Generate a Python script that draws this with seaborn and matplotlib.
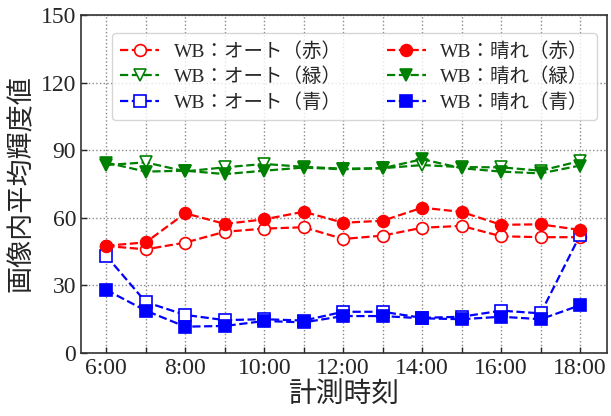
import matplotlib
matplotlib.use("Agg")
import matplotlib.pyplot as plt
import seaborn as sns
import pandas as pd

# Measurement hours (6:00 - 18:00)
hours = [6, 7, 8, 9, 10, 11, 12, 13, 14, 15, 16, 17, 18]
tick_labels = ["6:00", "", "8:00", "", "10:00", "", "12:00", "", "14:00",
               "", "16:00", "", "18:00"]

# Mean image brightness, white balance = auto
auto_red = [47.5, 46.0, 49.0, 53.8, 55.2, 55.8, 50.6, 52.1, 55.6, 56.4, 51.8, 51.4, 51.4]
auto_green = [83.4, 84.6, 80.6, 82.4, 83.9, 82.6, 81.8, 82.0, 83.4, 82.5, 82.4, 80.9, 85.2]
auto_blue = [43.1, 22.6, 16.9, 14.6, 15.0, 14.4, 18.3, 18.3, 15.6, 16.1, 18.8, 17.6, 52.4]

# Mean image brightness, white balance = sunny
sunny_red = [47.6, 49.1, 62.0, 57.3, 59.3, 62.7, 57.8, 58.7, 64.5, 62.6, 56.9, 57.1, 54.6]
sunny_green = [84.5, 80.5, 80.9, 79.4, 80.9, 82.3, 81.5, 82.0, 86.0, 82.0, 80.5, 79.7, 83.2]
sunny_blue = [28.0, 18.8, 11.7, 12.0, 14.2, 13.6, 16.4, 16.4, 15.4, 15.0, 16.1, 15.0, 21.2]

series = [
    ("WB：オート（赤）", auto_red, "#ff0000", "o", "white"),
    ("WB：オート（緑）", auto_green, "#008000", "v", "white"),
    ("WB：オート（青）", auto_blue, "#0000ff", "s", "white"),
    ("WB：晴れ（赤）", sunny_red, "#ff0000", "o", None),
    ("WB：晴れ（緑）", sunny_green, "#008000", "v", None),
    ("WB：晴れ（青）", sunny_blue, "#0000ff", "s", None),
]

sns.set_style("ticks")
plt.rcParams["font.family"] = ["Liberation Serif", "Noto Sans CJK JP"]

fig = plt.figure(figsize=(6.11, 4.16), dpi=100)
ax = fig.add_axes([0.1326, 0.1514, 0.8609, 0.8126])

for label, values, color, marker, face in series:
    df = pd.DataFrame({"hour": hours, "value": values})
    sns.lineplot(data=df, x="hour", y="value", ax=ax, label=label,
                 color=color, marker=marker, linestyle="--", linewidth=1.6,
                 markersize=8.5, markeredgewidth=1.2, markeredgecolor=color,
                 markerfacecolor=face if face else color)

ax.set_xlim(5.36, 18.68)
ax.set_ylim(0, 150)
ax.set_xticks(hours)
ax.set_xticklabels(tick_labels)
ax.set_yticks([0, 30, 60, 90, 120, 150])
ax.tick_params(direction="in", labelsize=17, length=4, width=1)
ax.grid(True, linestyle=":", color="#888888", linewidth=1.0)
for s in ax.spines.values():
    s.set_linewidth(1.2)
    s.set_color("#333333")

ax.set_xlabel("計測時刻", fontsize=20, labelpad=2)
ax.set_ylabel("画像内平均輝度値", fontsize=19.5, labelpad=4)

leg = ax.legend(ncol=2, loc="upper center", bbox_to_anchor=(0.52, 0.975),
                fontsize=14, frameon=True, columnspacing=2.3,
                handlelength=2.0, handletextpad=0.75,
                labelspacing=0.35, borderpad=0.45)
leg.get_frame().set_edgecolor("#cccccc")

fig.savefig("out.png", dpi=100)
